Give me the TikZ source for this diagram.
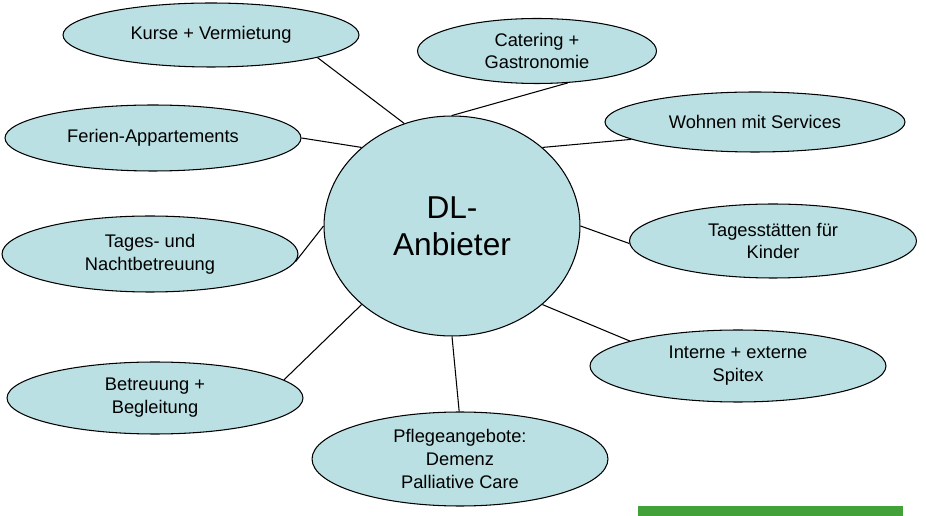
\documentclass[tikz,border=0pt]{standalone}
\usepackage{fontspec}
\setmainfont{Liberation Sans}
\usetikzlibrary{shapes.geometric}
\definecolor{bubble}{RGB}{187,224,227}
\definecolor{barGreen}{RGB}{67,161,57}

\begin{document}
\begin{tikzpicture}[x=0.02cm,y=-0.02cm]
        \useasboundingbox (0,0) rectangle (926,516);
        \fill[barGreen] (638,506) rectangle (903,516);

        \begin{scope}[every node/.style={ellipse,draw,line width=0.6pt,fill=bubble,inner sep=0pt,align=center,font=\fontsize{10.4}{13}\selectfont}]
            \node[minimum width=5.12cm,minimum height=4.4cm,font=\fontsize{18}{21}\selectfont] (0) at (452,226) {DL-\\Anbieter};
            \node[minimum width=5.92cm,minimum height=1.28cm] (1) at (211,35) {Kurse + Vermietung};
            \node[minimum width=4.78cm,minimum height=1.3cm] (2) at (537,51) {Catering +\\Gastronomie};
            \node[minimum width=5.92cm,minimum height=1.32cm] (3) at (153,138) {Ferien-Appartements};
            \node[minimum width=6cm,minimum height=1.2cm] (4) at (755,122) {Wohnen mit Services};
            \node[minimum width=5.92cm,minimum height=1.52cm] (5) at (150,254) {Tages- und\\Nachtbetreuung};
            \node[minimum width=5.74cm,minimum height=1.48cm] (6) at (773,241) {Tagesstätten für\\Kinder};
            \node[minimum width=5.92cm,minimum height=1.44cm] (7) at (738,366) {Interne + externe\\Spitex};
            \node[minimum width=5.92cm,minimum height=1.44cm] (8) at (155,398) {Betreuung +\\Begleitung};
            \node[minimum width=5.92cm,minimum height=1.88cm] (9) at (460,459) {Pflegeangebote:\\Demenz\\Palliative Care};
        \end{scope}

        \begin{scope}[every edge/.style={draw=black,line width=0.6pt}]
            \path [-] (0.115) edge (1.348);
            \path [-] (0.90) edge (2.314);
            \path [-] (0.139) edge (3.0);
            \path [-] (0.41) edge (4.188);
            \path [-] (0.180) edge (5.357);

            \path [-] (0.0) edge (6.181);
            \path [-] (0.319) edge (7.167);
            \path [-] (0.221) edge (8.8);
            \path [-] (0.270) edge (9.91);
        \end{scope}
    \end{tikzpicture}
\end{document}
